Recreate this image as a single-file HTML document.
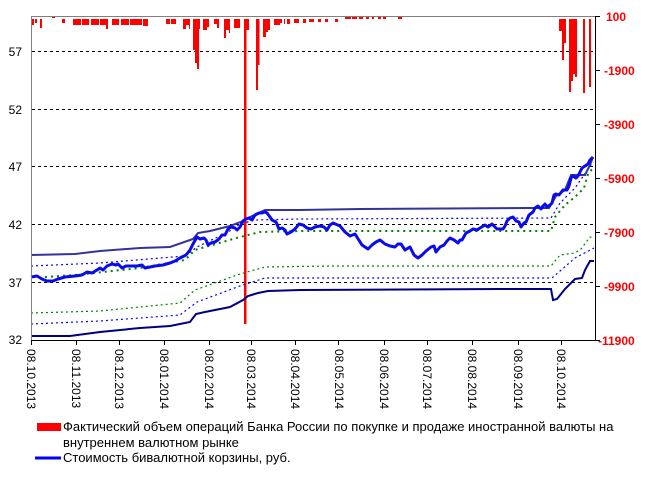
<!DOCTYPE html>
<html><head><meta charset="utf-8"><style>
html,body{margin:0;padding:0;background:#fff;}
svg{display:block;font-family:"Liberation Sans",Arial,sans-serif;}
</style></head><body>
<svg width="660" height="486" viewBox="0 0 660 486" xmlns="http://www.w3.org/2000/svg">
<rect width="660" height="486" fill="#fff"/>
<g stroke="#000" stroke-width="1" stroke-dasharray="3,3">
<line x1="32" y1="51.5" x2="595" y2="51.5"/>
<line x1="32" y1="109.5" x2="595" y2="109.5"/>
<line x1="32" y1="166.5" x2="595" y2="166.5"/>
<line x1="32" y1="224.5" x2="595" y2="224.5"/>
<line x1="32" y1="282.5" x2="595" y2="282.5"/>
</g>
<g fill="#ff0000">
<rect x="31" y="19" width="3" height="6"/><rect x="35" y="19" width="2" height="4"/><rect x="40" y="19" width="2" height="9"/>
<rect x="52" y="16" width="3" height="2"/><rect x="62" y="19" width="3" height="4"/>
<rect x="73" y="19" width="8" height="6"/><rect x="82" y="19" width="7" height="6"/><rect x="91" y="19" width="8" height="6"/><rect x="100" y="19" width="6" height="6"/><rect x="106" y="19" width="2" height="10"/>
<rect x="112" y="19" width="7" height="6"/><rect x="121" y="19" width="8" height="6"/><rect x="130" y="19" width="6" height="6"/><rect x="136" y="19" width="6" height="6"/><rect x="143" y="19" width="5" height="7"/>
<rect x="166" y="19" width="4" height="5"/><rect x="171" y="19" width="5" height="5"/>
<rect x="183" y="19" width="3" height="10"/><rect x="186" y="19" width="3" height="6"/><rect x="189" y="19" width="1" height="10"/>
<rect x="193" y="19" width="2" height="31"/><rect x="195" y="19" width="2" height="44"/><rect x="197" y="19" width="2" height="50"/><rect x="199" y="19" width="1" height="10"/>
<rect x="203" y="19" width="4" height="11"/><rect x="207" y="19" width="2" height="8"/>
<rect x="214" y="19" width="5" height="5"/><rect x="217" y="19" width="2" height="9"/>
<rect x="224" y="19" width="2" height="19"/><rect x="226" y="19" width="3" height="11"/><rect x="229" y="19" width="1" height="14"/>
<rect x="234" y="19" width="6" height="9"/>
<rect x="244" y="19" width="2.5" height="305"/><rect x="246" y="19" width="3" height="11"/>
<rect x="256" y="19" width="2" height="71"/><rect x="258" y="19" width="1.5" height="46"/>
<rect x="263" y="19" width="3" height="18"/><rect x="266" y="19" width="2" height="13"/><rect x="268" y="19" width="2" height="11"/>
<rect x="274" y="19" width="6" height="6"/><rect x="280" y="19" width="2" height="4"/><rect x="284" y="19" width="1" height="5"/><rect x="287" y="19" width="3" height="5"/>
<rect x="294" y="19" width="5" height="4"/><rect x="303" y="19" width="3" height="4"/><rect x="309" y="19" width="5" height="3"/><rect x="318" y="19" width="3" height="3"/><rect x="325" y="19" width="3" height="3"/>
<rect x="335" y="19" width="3" height="3"/><rect x="345" y="16" width="6" height="3"/><rect x="352" y="16" width="5" height="3"/><rect x="359" y="16" width="4" height="3"/><rect x="366" y="16" width="3" height="3"/><rect x="372" y="16" width="2" height="3"/><rect x="378" y="16" width="3" height="3"/><rect x="383" y="16" width="3" height="3"/><rect x="398" y="16" width="4" height="3"/>
<rect x="559" y="19" width="3" height="12"/><rect x="562" y="19" width="2" height="41"/><rect x="564" y="19" width="2" height="24"/>
<rect x="569" y="19" width="2" height="73"/><rect x="571" y="19" width="2" height="62"/><rect x="573" y="19" width="2" height="55"/><rect x="575" y="19" width="2" height="58"/>
<rect x="583" y="19" width="2" height="74"/><rect x="589" y="19" width="2" height="68"/>
</g>
<g fill="none" stroke-width="1.2">
<polyline stroke="#0000ff" stroke-dasharray="2,3" points="31,266 100,263 185,256 197,247 228,232 240,224 255,220 300,219 551,218 560,203 575,188 593,162"/>
<polyline stroke="#008000" stroke-width="2" stroke-dasharray="2,4" points="45,277 75,275 140,268 185,260 195,250 240,237 260,232 300,231 551,231 555,217 565,205 575,197 584,188 588,174 593,168"/>
<polyline stroke="#008000" stroke-dasharray="2,3" points="31,313 100,311 180,303 195,290 240,274 265,267 330,266 551,266 560,255 575,253 581,249 590,237 594,238"/>
<polyline stroke="#0000ff" stroke-dasharray="2,3" points="31,324 100,321 180,315 197,302 240,286 265,278 330,278 552,278 560,271 575,258 594,248"/>
</g>
<polyline fill="none" stroke="#333399" stroke-width="2" points="31,255 75,254 100,251 140,248 170,247 193,239 198,233 210,231 230,226 243,221 250,217 265,210 300,210 360,209 530,208 549,208 552,203 556,196 565,190 571,175 585,175 590,165 593,157"/>
<polyline fill="none" stroke="#000080" stroke-width="2" points="31,336 70,336 100,332 140,328 170,326 190,322 196,314 205,312 230,307 243,300 248,296 258,293 268,291 300,290 500,289 551,289 553,300 557,299 565,289 575,279 582,278 585,270 590,261 594,261"/>
<polyline fill="none" stroke="#0a0aee" stroke-width="3" stroke-linejoin="round" points="31,277 37,276 42,279 47,281 53,281 58,279 65,277 75,276 82,275 87,272 92,273 97,270 100,268 103,270 107,266 112,264 116,265 118,264 122,268 126,266 132,266 137,266 142,265 145,268 150,267 155,266 163,265 170,263 175,261 180,258 186,255 190,250 193,244 197,237 200,239 204,238 206,240 208,245 211,243 215,242 219,239 222,235 225,235 228,229 231,227 235,228 237,230 240,227 243,221 246,219 249,218 252,220 255,215 259,213 262,213 265,212 267,213 270,217 272,220 276,222 279,229 282,228 285,230 287,234 291,232 295,229 299,224 303,225 307,228 311,229 315,227 320,226 324,227 327,230 330,225 333,223 340,226 345,232 350,236 355,234 362,245 368,249 372,245 376,242 380,240 385,244 390,246 395,247 398,244 401,244 405,250 410,247 414,255 418,258 422,255 426,251 431,247 434,246 436,252 440,247 444,245 447,241 450,238 454,240 458,243 460,240 462,240 466,233 470,231 473,229 477,230 480,228 485,225 488,227 492,224 497,229 503,229 505,226 507,221 510,218 513,217 516,221 519,222 521,227 524,223 526,222 529,215 533,212 535,208 538,206 541,209 543,206 545,204 547,207 550,205 552,203 554,195 556,194 559,195 563,190 567,190 569,186 571,178 573,176 576,178 578,176 580,172 582,168 585,166 588,164 590,160 593,157"/>
<line x1="31.5" y1="16" x2="31.5" y2="340" stroke="#808080" stroke-width="1"/>
<line x1="31" y1="16.5" x2="595" y2="16.5" stroke="#808080" stroke-width="1"/>
<line x1="595.5" y1="16" x2="595.5" y2="341" stroke="#000" stroke-width="1"/>
<line x1="31" y1="340.5" x2="596" y2="340.5" stroke="#000" stroke-width="1"/>
<g stroke="#000">
<line x1="596" y1="16.5" x2="600" y2="16.5"/><line x1="596" y1="70.5" x2="600" y2="70.5"/><line x1="596" y1="124.5" x2="600" y2="124.5"/><line x1="596" y1="178.5" x2="600" y2="178.5"/><line x1="596" y1="232.5" x2="600" y2="232.5"/><line x1="596" y1="286.5" x2="600" y2="286.5"/><line x1="596" y1="340.5" x2="600" y2="340.5"/>
<line x1="31.5" y1="340" x2="31.5" y2="345"/><line x1="76.5" y1="340" x2="76.5" y2="345"/><line x1="119.5" y1="340" x2="119.5" y2="345"/><line x1="164.5" y1="340" x2="164.5" y2="345"/><line x1="209.5" y1="340" x2="209.5" y2="345"/><line x1="251.5" y1="340" x2="251.5" y2="345"/><line x1="295.5" y1="340" x2="295.5" y2="345"/><line x1="338.5" y1="340" x2="338.5" y2="345"/><line x1="384.5" y1="340" x2="384.5" y2="345"/><line x1="427.5" y1="340" x2="427.5" y2="345"/><line x1="472.5" y1="340" x2="472.5" y2="345"/><line x1="518.5" y1="340" x2="518.5" y2="345"/><line x1="561.5" y1="340" x2="561.5" y2="345"/>
</g>
<g font-size="12" fill="#000" text-anchor="end">
<text x="22" y="56">57</text><text x="22" y="114">52</text><text x="22" y="171">47</text><text x="22" y="229">42</text><text x="22" y="287">37</text><text x="22" y="344">32</text>
</g>
<g font-size="12" font-weight="bold" fill="#ff0000">
<text x="606" y="21">100</text><text x="604" y="75">-1900</text><text x="604" y="129">-3900</text><text x="604" y="183">-5900</text><text x="604" y="237">-7900</text><text x="604" y="291">-9900</text><text x="598" y="345">-11900</text>
</g>
<g font-size="12" fill="#000">
<text transform="translate(27,349) rotate(90)">08.10.2013</text>
<text transform="translate(72,349) rotate(90)">08.11.2013</text>
<text transform="translate(115,349) rotate(90)">08.12.2013</text>
<text transform="translate(160,349) rotate(90)">08.01.2014</text>
<text transform="translate(205,349) rotate(90)">08.02.2014</text>
<text transform="translate(247,349) rotate(90)">08.03.2014</text>
<text transform="translate(291,349) rotate(90)">08.04.2014</text>
<text transform="translate(335,349) rotate(90)">08.05.2014</text>
<text transform="translate(380,349) rotate(90)">08.06.2014</text>
<text transform="translate(423,349) rotate(90)">08.07.2014</text>
<text transform="translate(468,349) rotate(90)">08.08.2014</text>
<text transform="translate(514,349) rotate(90)">08.09.2014</text>
<text transform="translate(557,349) rotate(90)">08.10.2014</text>
</g>
<rect x="37" y="423" width="24" height="8" fill="#ff0000"/>
<line x1="35" y1="458" x2="61" y2="458" stroke="#0000ff" stroke-width="3"/>
<g font-size="13" fill="#000">
<text x="63" y="431">Фактический объем операций Банка России по покупке и продаже иностранной валюты на</text>
<text x="63" y="447">внутреннем валютном рынке</text>
<text x="63" y="462">Стоимость бивалютной корзины, руб.</text>
</g>
</svg>
</body></html>
